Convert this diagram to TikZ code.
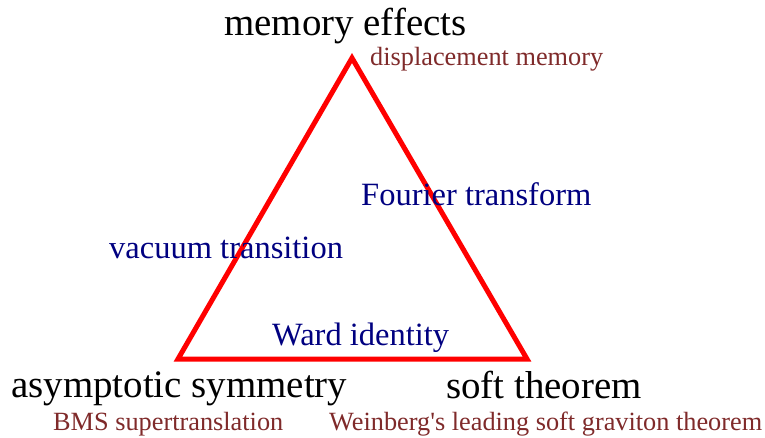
\documentclass[tikz,border=0pt]{standalone}
\usepackage{fontspec}
\setmainfont{Liberation Serif}
\definecolor{darkred}{HTML}{7F2A2A}
\definecolor{navyblue}{HTML}{000080}
\tikzset{
  big/.style={font=\fontsize{38.9}{40}\selectfont, text=black, inner sep=0pt, anchor=base west},
  mid/.style={font=\fontsize{32.5}{34}\selectfont, text=navyblue, inner sep=0pt, anchor=base west},
  small/.style={font=\fontsize{26.3}{28}\selectfont, text=darkred, inner sep=0pt, anchor=base west},
  tri/.style={draw=red, line width=5pt, line join=miter}
}
\begin{document}
\begin{tikzpicture}[x=1pt,y=-1pt]
\useasboundingbox (0,0) rectangle (765,437);
\coordinate (T) at (352,58);
\coordinate (L) at (178,359);
\coordinate (R) at (527,359);
\draw[tri] (T) -- (L) -- (R) -- cycle;
\node[big] (mem) at (224,35) {memory effects};
\node[small] (disp) at (370,65) {displacement memory};
\node[mid] (four) at (361,205) {Fourier transform};
\node[mid] (vac) at (109,258) {vacuum transition};
\node[mid] (ward) at (272,345) {Ward identity};
\node[big] (asym) at (11,397) {asymptotic symmetry};
\node[big] (soft) at (446,398) {soft theorem};
\node[small] (bms) at (53,430) {BMS supertranslation};
\node[small] (wein) at (329,430) {Weinberg\textquotesingle s leading soft graviton theorem};
\end{tikzpicture}
\end{document}
